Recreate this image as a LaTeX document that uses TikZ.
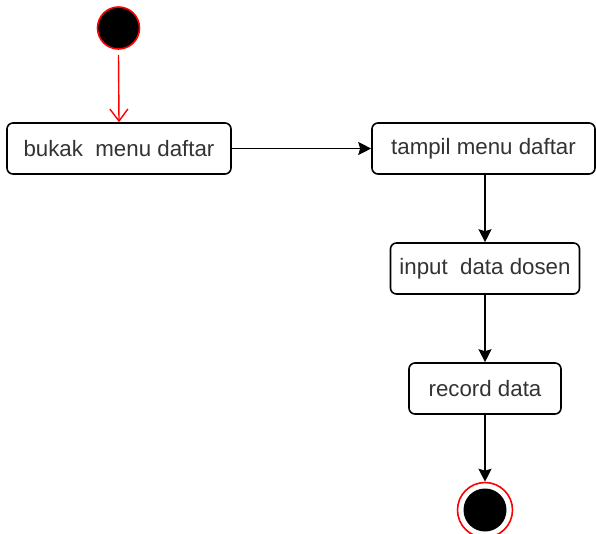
\documentclass[tikz,border=0pt]{standalone}
\usepackage{fontspec}
\setmainfont{Liberation Sans}
\usetikzlibrary{arrows.meta}
\begin{document}
\begin{tikzpicture}[x=1pt,y=-1pt,
  act/.style={draw=black,line width=1.6pt,rounded corners=6pt,fill=white,
    inner sep=0pt,text=black!80,font=\fontsize{22.3}{25}\selectfont},
  flow/.style={draw=black,line width=1.6pt,-{Stealth[length=13pt,width=13pt,inset=2pt]}},
  startflow/.style={draw=red,line width=1.4pt,-{Straight Barb[length=12pt,width=18pt]}}]
\useasboundingbox (0,0) rectangle (596,533);
\node[circle,fill=black,draw=red,line width=1.6pt,minimum size=42pt,inner sep=0pt] (start) at (118.5,28) {};
\node[act,minimum width=224pt,minimum height=51pt] (b1) at (119,148.5) {bukak\ \ menu daftar};
\node[act,minimum width=223pt,minimum height=51pt] (b2) at (483.5,148.5) {tampil menu daftar};
\node[act,minimum width=189pt,minimum height=51pt] (b3) at (485,268.5) {input\ \ data dosen};
\node[act,minimum width=152pt,minimum height=51pt] (b4) at (485,388.5) {record data};
\node[circle,draw=red,line width=1.6pt,fill=white,minimum size=55pt,inner sep=0pt] (endo) at (485,510) {};
\node[circle,fill=black,minimum size=43pt,inner sep=0pt] (endi) at (endo.center) {};
\draw[startflow] (start.south) ++(0,5) -- (b1.north);
\draw[flow] (b1.east) -- (b2.west);
\draw[flow] (b2.south -| b3.north) -- (b3.north);
\draw[flow] (b3.south) -- (b4.north);
\draw[flow] (b4.south) -- (endo.north);
\end{tikzpicture}
\end{document}
